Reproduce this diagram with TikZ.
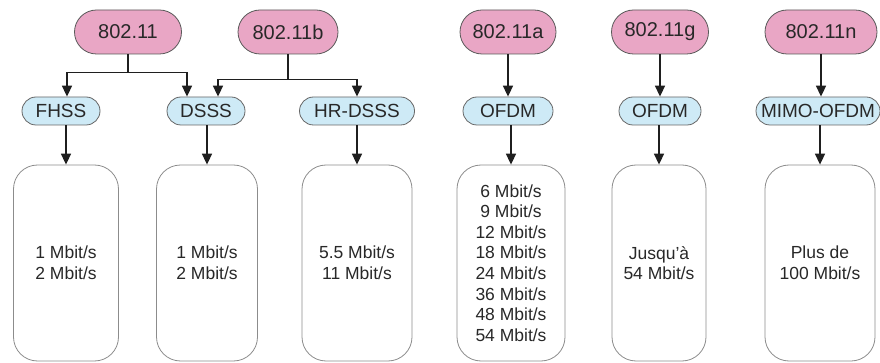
\documentclass[tikz,border=0pt]{standalone}
\usepackage{fontspec}
\setmainfont{Liberation Sans}
\usepackage{tikz}
\usetikzlibrary{arrows.meta}
\usetikzlibrary{shapes.misc}
\definecolor{stdpink}{RGB}{233,166,197}
\definecolor{modblue}{RGB}{206,234,246}
\definecolor{txtgray}{RGB}{40,40,40}
\tikzstyle{graph}=[x=1pt, y=-1pt, text=txtgray]
\tikzstyle{std}=[rounded rectangle, draw=black!65, line width=0.8pt, fill=stdpink, inner sep=0pt, minimum height=44pt, font=\fontsize{20}{22}\selectfont]
\tikzstyle{mod}=[rounded rectangle, draw=black!60, line width=0.8pt, fill=modblue, inner sep=0pt, minimum height=28pt, font=\fontsize{19}{21}\selectfont]
\tikzstyle{rate}=[rectangle, rounded corners=24pt, draw=black!45, line width=0.8pt, fill=white, inner sep=0pt, minimum height=196pt, align=center, font=\fontsize{17.5}{20.6}\selectfont]
\tikzstyle{edge}=[line width=1.6pt, draw=black!88, -{Triangle[width=10pt,length=11pt]}]

\begin{document}
\begin{tikzpicture}[graph]
	\useasboundingbox (0,0) rectangle (880,363);
	\draw (128,32) node[std, minimum width=107pt] (s1) {802.11};
	\draw (288,32) node[std, minimum width=100pt] (s2) {802.11b};
	\draw (508,32) node[std, minimum width=96pt] (s3) {802.11a};
	\draw (660,32) node[std, minimum width=97pt] (s4) {802.11g};
	\draw (821,32) node[std, minimum width=112pt] (s5) {802.11n};
	%
	\draw (61,111) node[mod, minimum width=78pt] (m1) {FHSS};
	\draw (206,111) node[mod, minimum width=78pt] (m2) {DSSS};
	\draw (357,111) node[mod, minimum width=115pt] (m3) {HR-DSSS};
	\draw (508,111) node[mod, minimum width=90pt] (m4) {OFDM};
	\draw (660,111) node[mod, minimum width=82pt] (m5) {OFDM};
	\draw (818,111) node[mod, minimum width=124pt] (m6) {MIMO-OFDM};
	%
	\draw (66,263) node[rate, minimum width=105pt] (r1) {1 Mbit/s\\2 Mbit/s};
	\draw (207,263) node[rate, minimum width=101pt] (r2) {1 Mbit/s\\2 Mbit/s};
	\draw (357,263) node[rate, minimum width=110pt] (r3) {5.5 Mbit/s\\11 Mbit/s};
	\draw (511,263) node[rate, minimum width=108pt] (r4) {6 Mbit/s\\9 Mbit/s\\12 Mbit/s\\18 Mbit/s\\24 Mbit/s\\36 Mbit/s\\48 Mbit/s\\54 Mbit/s};
	\draw (659,263) node[rate, minimum width=94pt] (r5) {Jusqu’à\\54 Mbit/s};
	\draw (820,263) node[rate, minimum width=110pt] (r6) {Plus de\\100 Mbit/s};
	%
	\draw[edge] (s1.south) -- ++(0,18) -| ([xshift=6pt]m1.north);
	\draw[edge] (s1.south) -- ++(0,18) -| ([xshift=-19pt]m2.north);
	\draw[edge] (s2.south) -- ++(0,25) -| ([xshift=12pt]m2.north);
	\draw[edge] (s2.south) -- ++(0,25) -| (m3.north);
	\draw[edge] (s3.south) -- (m4.north);
	\draw[edge] (s4.south) -- (m5.north);
	\draw[edge] (s5.south) -- (m6.north -| s5.south);
	%
	\draw[edge] (m1.south -| r1.north) -- (r1.north);
	\draw[edge] (m2.south -| r2.north) -- (r2.north);
	\draw[edge] (m3.south -| r3.north) -- (r3.north);
	\draw[edge] (m4.south -| r4.north) -- (r4.north);
	\draw[edge] (m5.south -| r5.north) -- (r5.north);
	\draw[edge] (m6.south -| r6.north) -- (r6.north);
\end{tikzpicture}
\end{document}
